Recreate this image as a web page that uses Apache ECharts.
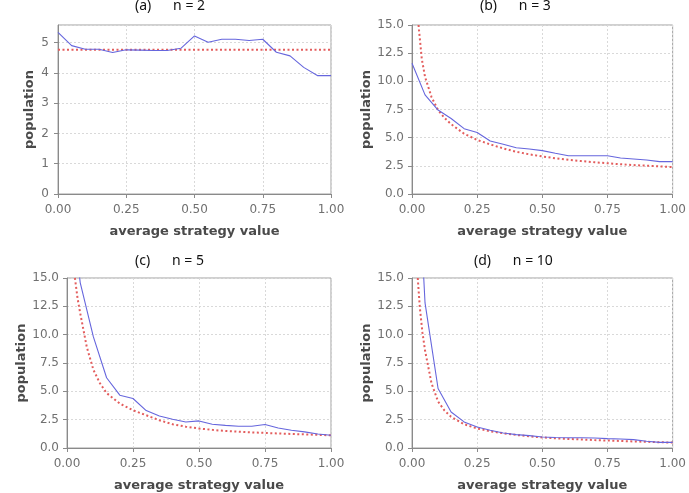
<!DOCTYPE html>
<html>
<head>
<meta charset="utf-8">
<script src="https://cdn.jsdelivr.net/npm/echarts@6/dist/echarts.min.js"></script>
<style>html,body{margin:0;padding:0;background:#fff}#c{width:689px;height:493px}</style>
</head>
<body>
<div id="c"></div>
<script>
// ---- data ----
const titles = ['(a)      n = 2', '(b)      n = 3', '(c)      n = 5', '(d)      n = 10'];
const xTicks = [0, 0.25, 0.5, 0.75, 1.0];
const xSim = [0, 0.05, 0.1, 0.15, 0.2, 0.25, 0.3, 0.35, 0.4, 0.45, 0.5, 0.55, 0.6, 0.65, 0.7, 0.75, 0.8, 0.85, 0.9, 0.95, 1.0];

const blueA = [5.34, 4.90, 4.78, 4.78, 4.67, 4.76, 4.75, 4.74, 4.74, 4.81, 5.22, 5.01, 5.11, 5.11, 5.07, 5.11, 4.68, 4.56, 4.18, 3.91, 3.91];
const redAX = [0, 1.0];
const redA = [4.76, 4.76];

const blueB = [11.6, 8.8, 7.45, 6.7, 5.8, 5.46, 4.7, 4.41, 4.11, 3.99, 3.85, 3.61, 3.40, 3.40, 3.40, 3.40, 3.20, 3.11, 3.02, 2.87, 2.87];
const redBX = [0.025, 0.0375, 0.05, 0.075, 0.1, 0.125, 0.15, 0.2, 0.25, 0.3, 0.35, 0.4, 0.45, 0.5, 0.55, 0.6, 0.65, 0.7, 0.75, 0.8, 0.85, 0.9, 0.95, 1.0];
const redB = [15.0, 12.0, 10.4, 8.6, 7.45, 6.75, 6.2, 5.35, 4.8, 4.4, 4.05, 3.75, 3.52, 3.33, 3.17, 3.03, 2.92, 2.82, 2.73, 2.64, 2.57, 2.51, 2.45, 2.38];

const blueC = [25, 14.6, 9.8, 6.2, 4.66, 4.37, 3.3, 2.83, 2.54, 2.30, 2.39, 2.10, 2.0, 1.92, 1.92, 2.07, 1.77, 1.56, 1.42, 1.24, 1.12];
const redCX = [0.03, 0.04, 0.05, 0.075, 0.1, 0.125, 0.15, 0.2, 0.25, 0.3, 0.35, 0.4, 0.45, 0.5, 0.55, 0.6, 0.65, 0.7, 0.75, 0.8, 0.85, 0.9, 0.95, 1.0];
const redC = [15.0, 13.2, 11.9, 8.9, 6.9, 5.7, 4.85, 3.92, 3.33, 2.89, 2.45, 2.1, 1.88, 1.72, 1.6, 1.5, 1.44, 1.38, 1.33, 1.28, 1.24, 1.2, 1.16, 1.12];

const blueD = [35, 12.8, 5.25, 3.18, 2.3, 1.86, 1.56, 1.33, 1.18, 1.09, 0.97, 0.93, 0.91, 0.91, 0.88, 0.83, 0.8, 0.74, 0.6, 0.5, 0.5];
const redDX = [0.022, 0.03, 0.04, 0.05, 0.075, 0.1, 0.125, 0.15, 0.2, 0.25, 0.3, 0.35, 0.4, 0.45, 0.5, 0.55, 0.6, 0.65, 0.7, 0.75, 0.8, 0.85, 0.9, 0.95, 1.0];
const redD = [15.0, 12.4, 10.2, 8.6, 5.7, 4.1, 3.3, 2.75, 2.1, 1.72, 1.48, 1.3, 1.15, 1.03, 0.93, 0.86, 0.8, 0.75, 0.7, 0.66, 0.62, 0.58, 0.55, 0.51, 0.48];

const yMaxA = 5.58;
// ---- layout ----
const grids = [
  {left: 58, top: 25, width: 273, height: 169},
  {left: 412, top: 25, width: 264, height: 169},
  {left: 67, top: 278, width: 264, height: 170},
  {left: 412, top: 278, width: 264, height: 170}
];
const titlePos = [{left: 135, top: -1}, {left: 480, top: -1}, {left: 135, top: 254}, {left: 474, top: 254}];

const zip = (xs, ys) => xs.map((x, i) => [x, ys[i]]);
const blues = [zip(xSim, blueA), zip(xSim, blueB), zip(xSim, blueC), zip(xSim, blueD)];
const reds = [zip(redAX, redA), zip(redBX, redB), zip(redCX, redC), zip(redDX, redD)];

const axisGray = '#8a8a8a';
const labelStyle = {color: '#707070', fontFamily: 'DejaVu Sans', fontSize: 12};
const nameStyle = {color: '#4a4a4a', fontFamily: 'DejaVu Sans', fontSize: 13, fontWeight: 'bold'};
const gridLine = {show: true, lineStyle: {color: '#d9d9d9', type: [2, 2], width: 1}};

const option = {
  animation: false,
  backgroundColor: '#fff',
  title: titles.map((t, i) => ({
    text: t, left: titlePos[i].left, top: titlePos[i].top, padding: 0,
    textStyle: {fontFamily: 'Noto Sans', fontSize: 14, fontWeight: 'normal', color: '#111'}
  })),
  grid: grids.map(g => Object.assign({show: true, borderColor: '#a0a0a0', borderWidth: 1, backgroundColor: '#fff'}, g)),
  xAxis: grids.map((g, i) => ({
    type: 'value', gridIndex: i, min: 0, max: 1, interval: 0.25,
    name: 'average strategy value', nameLocation: 'middle', nameGap: 31, nameTextStyle: nameStyle,
    axisLine: {show: true, lineStyle: {color: axisGray}},
    axisTick: {show: true, length: 4, lineStyle: {color: axisGray}},
    axisLabel: Object.assign({margin: 10, formatter: v => v.toFixed(2)}, labelStyle),
    splitLine: gridLine
  })),
  yAxis: grids.map((g, i) => i === 0 ? ({
    type: 'value', gridIndex: i, min: 0, max: yMaxA, interval: 1,
    name: 'population', nameLocation: 'middle', nameGap: 22, nameTextStyle: nameStyle,
    axisLine: {show: true, lineStyle: {color: axisGray}},
    axisTick: {show: true, length: 4, lineStyle: {color: axisGray}},
    axisLabel: Object.assign({margin: 9, showMaxLabel: false, formatter: v => (Math.abs(v - Math.round(v)) < 1e-6 ? String(Math.round(v)) : '')}, labelStyle),
    splitLine: gridLine
  }) : ({
    type: 'value', gridIndex: i, min: 0, max: 15, interval: 2.5,
    name: 'population', nameLocation: 'middle', nameGap: 37, nameTextStyle: nameStyle,
    axisLine: {show: true, lineStyle: {color: axisGray}},
    axisTick: {show: true, length: 4, lineStyle: {color: axisGray}},
    axisLabel: Object.assign({margin: 8, formatter: v => v.toFixed(1)}, labelStyle),
    splitLine: gridLine
  })),
  series: [].concat(
    reds.map((d, i) => ({
      type: 'line', xAxisIndex: i, yAxisIndex: i, data: d, showSymbol: false, clip: true,
      lineStyle: {color: '#e35d5d', width: 2, type: [2, 2.5]}, z: 2
    })),
    blues.map((d, i) => ({
      type: 'line', xAxisIndex: i, yAxisIndex: i, data: d, showSymbol: false, clip: true,
      lineStyle: {color: '#6666dd', width: 1.1}, z: 3
    }))
  )
};
const chart = echarts.init(document.getElementById('c'), null, {renderer: 'canvas'});
chart.setOption(option);
</script>
</body>
</html>
